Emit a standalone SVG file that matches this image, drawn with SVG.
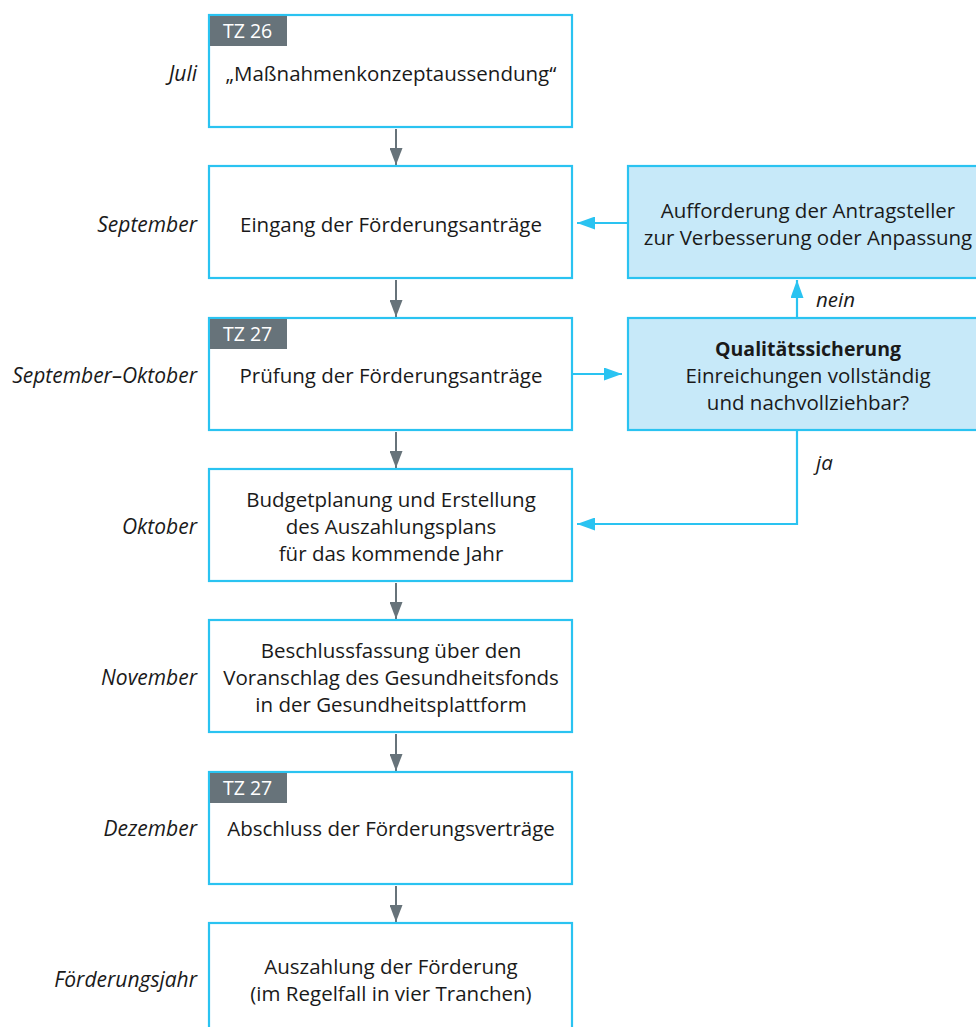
<svg xmlns="http://www.w3.org/2000/svg" width="976" height="1027" viewBox="0 0 976 1027">
<style>
.box{fill:#ffffff;stroke:#2ac3f1;stroke-width:2.2}
.rbox{fill:#c7e9f9;stroke:#2ac3f1;stroke-width:2.2}
.tag{fill:#67737a}
.t{font-family:"Open Sans","Noto Sans",sans-serif;font-size:20.5px;fill:#1a1a1a;text-anchor:middle}
.b{font-weight:bold;font-size:19.5px}
.tt{font-family:"Open Sans","Noto Sans",sans-serif;font-size:19.5px;fill:#ffffff}
.lab{font-family:"Open Sans","Noto Sans",sans-serif;font-size:21px;font-style:italic;fill:#1a1a1a;text-anchor:end}
.lab2{font-family:"Open Sans","Noto Sans",sans-serif;font-size:20.5px;font-style:italic;fill:#1a1a1a}
.g{stroke:#67737a;stroke-width:2;fill:none}
.bl{stroke:#2ac3f1;stroke-width:2.2;fill:none}
</style>
<defs>
<marker id="ag" markerUnits="userSpaceOnUse" markerWidth="17" markerHeight="13" refX="17" refY="6.5" orient="auto">
<path d="M0,0 L17,6.5 L0,13 z" fill="#67737a"/>
</marker>
<marker id="ab" markerUnits="userSpaceOnUse" markerWidth="18" markerHeight="13" refX="18" refY="6.5" orient="auto">
<path d="M0,0 L18,6.5 L0,13 z" fill="#2ac3f1"/>
</marker>
</defs>

<g id="labels">
<text class="lab" x="197" y="81">Juli</text>
<text class="lab" x="197" y="232">September</text>
<text class="lab" x="197" y="383">September–Oktober</text>
<text class="lab" x="197" y="534">Oktober</text>
<text class="lab" x="197" y="685">November</text>
<text class="lab" x="197" y="836">Dezember</text>
<text class="lab" x="197" y="987">Förderungsjahr</text>
</g>

<g id="connectors">
<line class="g" x1="396" y1="129" x2="396" y2="165" marker-end="url(#ag)"/>
<line class="g" x1="396" y1="280" x2="396" y2="317" marker-end="url(#ag)"/>
<line class="g" x1="396" y1="432" x2="396" y2="468" marker-end="url(#ag)"/>
<line class="g" x1="396" y1="583" x2="396" y2="619" marker-end="url(#ag)"/>
<line class="g" x1="396" y1="734" x2="396" y2="771" marker-end="url(#ag)"/>
<line class="g" x1="396" y1="886" x2="396" y2="922" marker-end="url(#ag)"/>
<line class="bl" x1="628" y1="223" x2="577" y2="223" marker-end="url(#ab)"/>
<line class="bl" x1="573" y1="374" x2="622" y2="374" marker-end="url(#ab)"/>
<line class="bl" x1="797" y1="318" x2="797" y2="280" marker-end="url(#ab)"/>
<polyline class="bl" points="797,430 797,524 577,524" marker-end="url(#ab)"/>
<text class="lab2" x="816" y="307">nein</text>
<text class="lab2" x="816" y="470">ja</text>
</g>

<g id="n1">
<rect class="box" x="209" y="15" width="363" height="112"/>
<rect class="tag" x="210" y="16" width="77" height="30"/>
<text class="tt" x="223" y="38">TZ 26</text>
<text class="t" x="391" y="81">„Maßnahmenkonzeptaussendung“</text>
</g>
<g id="n2">
<rect class="box" x="209" y="166" width="363" height="112"/>
<text class="t" x="391" y="232">Eingang der Förderungsanträge</text>
</g>
<g id="n3">
<rect class="box" x="209" y="318" width="363" height="112"/>
<rect class="tag" x="210" y="319" width="77" height="30"/>
<text class="tt" x="223" y="341">TZ 27</text>
<text class="t" x="391" y="383">Prüfung der Förderungsanträge</text>
</g>
<g id="n4">
<rect class="box" x="209" y="469" width="363" height="112"/>
<text class="t" x="391" y="507">Budgetplanung und Erstellung</text>
<text class="t" x="391" y="534">des Auszahlungsplans</text>
<text class="t" x="391" y="561">für das kommende Jahr</text>
</g>
<g id="n5">
<rect class="box" x="209" y="620" width="363" height="112"/>
<text class="t" x="391" y="658">Beschlussfassung über den</text>
<text class="t" x="391" y="685">Voranschlag des Gesundheitsfonds</text>
<text class="t" x="391" y="712">in der Gesundheitsplattform</text>
</g>
<g id="n6">
<rect class="box" x="209" y="772" width="363" height="112"/>
<rect class="tag" x="210" y="773" width="77" height="30"/>
<text class="tt" x="223" y="795">TZ 27</text>
<text class="t" x="391" y="836">Abschluss der Förderungsverträge</text>
</g>
<g id="n7">
<rect class="box" x="209" y="923" width="363" height="112"/>
<text class="t" x="391" y="974">Auszahlung der Förderung</text>
<text class="t" x="391" y="1001">(im Regelfall in vier Tranchen)</text>
</g>
<g id="r1">
<rect class="rbox" x="628" y="166" width="362" height="112"/>
<text class="t" x="808" y="218">Aufforderung der Antragsteller</text>
<text class="t" x="808" y="245">zur Verbesserung oder Anpassung</text>
</g>
<g id="r2">
<rect class="rbox" x="628" y="318" width="362" height="112"/>
<text class="t b" x="808" y="356">Qualitätssicherung</text>
<text class="t" x="808" y="383">Einreichungen vollständig</text>
<text class="t" x="808" y="410">und nachvollziehbar?</text>
</g>
</svg>
